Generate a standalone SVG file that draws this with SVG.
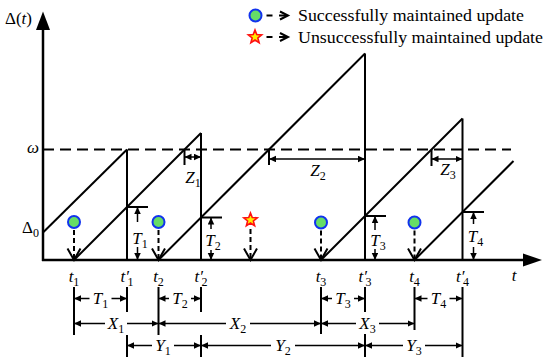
<svg xmlns="http://www.w3.org/2000/svg" width="550" height="362" viewBox="0 0 550 362">
<style>
  .ln{stroke:#000;stroke-width:2;fill:none}
  .ax{stroke:#000;stroke-width:2.5;fill:none}
  .dim{stroke:#000;stroke-width:1.5;fill:none;marker-end:url(#ah)}
  .dbl{stroke:#000;stroke-width:1.5;fill:none;marker-end:url(#ah);marker-start:url(#ah)}
  .tk{stroke:#000;stroke-width:2;fill:none}
  .dash{stroke:#000;stroke-width:2;fill:none;stroke-dasharray:11 6}
  .shaft{stroke:#000;stroke-width:2;fill:none;stroke-dasharray:5 3}
  .vh{stroke:#000;stroke-width:2;fill:none}
  .ok{fill:#66dd66;stroke:#1133ee;stroke-width:2}
  .bad{fill:#ffee00;stroke:#ff1010;stroke-width:1.6}
  text{font-family:"Times New Roman",Times,"Liberation Serif","DejaVu Serif",serif;font-size:17px;fill:#000}
  .it{font-style:italic}
  .c{text-anchor:middle}
  .sub{font-size:12px;font-style:normal}
  .leg{font-size:17px}
</style>
<defs>
  <marker id="ah" markerUnits="userSpaceOnUse" markerWidth="8" markerHeight="7" refX="7" refY="3.25" orient="auto-start-reverse">
    <path d="M0,0 L7,3.25 L0,6.5 z" fill="#000"/>
  </marker>
  <polygon id="star" points="0,-7 1.763,-2.427 6.657,-2.163 2.853,0.927 4.114,5.663 0,3 -4.114,5.663 -2.853,0.927 -6.657,-2.163 -1.763,-2.427"/>
</defs>

<g id="axes">
  <line class="ax" x1="43" y1="261" x2="43" y2="28"/>
  <polygon points="43,11.5 36,30 50,30" fill="#000"/>
  <line class="ax" x1="42" y1="260" x2="525" y2="260"/>
  <polygon points="542,260 523,253.5 523,266.5" fill="#000"/>
  <line class="dash" x1="43" y1="149.5" x2="511" y2="149.5"/>
  <text x="5" y="24">Δ(<tspan class="it">t</tspan>)</text>
  <text x="33" y="153" class="it c">ω</text>
  <text x="22" y="233">Δ<tspan class="sub" dy="4">0</tspan></text>
  <text x="514" y="281" class="it c">t</text>
</g>

<g id="sawtooth">
  <line class="ln" x1="43" y1="232.5" x2="127" y2="149.5"/>
  <line class="ln" x1="127" y1="149.5" x2="127" y2="260"/>
  <line class="ln" x1="74" y1="260" x2="201" y2="133"/>
  <line class="ln" x1="201" y1="133" x2="201" y2="260"/>
  <line class="ln" x1="158.5" y1="260" x2="365" y2="53.5"/>
  <line class="ln" x1="365" y1="53.5" x2="365" y2="260"/>
  <line class="ln" x1="321" y1="260" x2="462.5" y2="118.5"/>
  <line class="ln" x1="462.5" y1="118.5" x2="462.5" y2="260"/>
  <line class="ln" x1="414.5" y1="260" x2="513.5" y2="161"/>
</g>

<g id="service-times">
  <line class="tk" x1="127" y1="207" x2="148" y2="207"/>
  <line class="dim" x1="137.5" y1="222" x2="137.5" y2="207"/>
  <line class="dim" x1="137.5" y1="247" x2="137.5" y2="260"/>
  <text x="140" y="244" class="it c">T<tspan class="sub" dy="4">1</tspan></text>

  <line class="tk" x1="201" y1="217.5" x2="222" y2="217.5"/>
  <line class="dim" x1="211" y1="229" x2="211" y2="217.5"/>
  <line class="dim" x1="211" y1="250" x2="211" y2="260"/>
  <text x="213" y="246" class="it c">T<tspan class="sub" dy="4">2</tspan></text>

  <line class="tk" x1="365" y1="216" x2="386" y2="216"/>
  <line class="dim" x1="375" y1="230" x2="375" y2="216"/>
  <line class="dim" x1="375" y1="249" x2="375" y2="260"/>
  <text x="378" y="246" class="it c">T<tspan class="sub" dy="4">3</tspan></text>

  <line class="tk" x1="462.5" y1="212" x2="484" y2="212"/>
  <line class="dim" x1="473.5" y1="224" x2="473.5" y2="212"/>
  <line class="dim" x1="473.5" y1="247" x2="473.5" y2="260"/>
  <text x="475.5" y="242" class="it c">T<tspan class="sub" dy="4">4</tspan></text>
</g>

<g id="overshoot">
  <line class="tk" x1="184.5" y1="149.5" x2="184.5" y2="165"/>
  <line class="dbl" x1="184.5" y1="157" x2="201" y2="157"/>
  <text x="193" y="183" class="it c">Z<tspan class="sub" dy="4">1</tspan></text>

  <line class="tk" x1="269" y1="149.5" x2="269" y2="165"/>
  <line class="dbl" x1="269" y1="159" x2="365" y2="159"/>
  <text x="318" y="176" class="it c">Z<tspan class="sub" dy="4">2</tspan></text>

  <line class="tk" x1="431.5" y1="149.5" x2="431.5" y2="166"/>
  <line class="dbl" x1="431.5" y1="159" x2="462.5" y2="159"/>
  <text x="448" y="175" class="it c">Z<tspan class="sub" dy="4">3</tspan></text>
</g>

<g id="updates">
  <g id="update-t1">
    <line class="shaft" x1="74" y1="230" x2="74" y2="258"/>
    <polyline class="vh" points="67.5,248.5 74,260 80.5,248.5"/>
    <circle class="ok" cx="74" cy="222" r="6"/>
  </g>
  <g id="update-t2">
    <line class="shaft" x1="158.5" y1="230" x2="158.5" y2="258"/>
    <polyline class="vh" points="152,248.5 158.5,260 165,248.5"/>
    <circle class="ok" cx="158.5" cy="222" r="6"/>
  </g>
  <g id="update-fail">
    <line class="shaft" x1="250.5" y1="229" x2="250.5" y2="258"/>
    <polyline class="vh" points="244,248.5 250.5,260 257,248.5"/>
    <use href="#star" class="bad" transform="translate(250.5,220)"/>
  </g>
  <g id="update-t3">
    <line class="shaft" x1="321" y1="230.5" x2="321" y2="258"/>
    <polyline class="vh" points="314.5,248.5 321,260 327.5,248.5"/>
    <circle class="ok" cx="321" cy="222.5" r="6"/>
  </g>
  <g id="update-t4">
    <line class="shaft" x1="414.5" y1="230.5" x2="414.5" y2="258"/>
    <polyline class="vh" points="408,248.5 414.5,260 421,248.5"/>
    <circle class="ok" cx="414.5" cy="222.5" r="6"/>
  </g>
</g>

<g id="time-labels">
  <text x="74" y="282" class="it c">t<tspan class="sub" dy="4">1</tspan></text>
  <text x="127" y="282" class="it c">t′<tspan class="sub" dx="-1.5" dy="4">1</tspan></text>
  <text x="158.5" y="282" class="it c">t<tspan class="sub" dy="4">2</tspan></text>
  <text x="201" y="282" class="it c">t′<tspan class="sub" dx="-1.5" dy="4">2</tspan></text>
  <text x="321" y="282" class="it c">t<tspan class="sub" dy="4">3</tspan></text>
  <text x="365" y="282" class="it c">t′<tspan class="sub" dx="-1.5" dy="4">3</tspan></text>
  <text x="414.5" y="282" class="it c">t<tspan class="sub" dy="4">4</tspan></text>
  <text x="462.5" y="282" class="it c">t′<tspan class="sub" dx="-1.5" dy="4">4</tspan></text>
</g>

<g id="connectors">
  <line class="tk" x1="74" y1="287" x2="74" y2="335"/>
  <line class="tk" x1="127" y1="287" x2="127" y2="312"/>
  <line class="tk" x1="127" y1="335" x2="127" y2="357"/>
  <line class="tk" x1="158.5" y1="287" x2="158.5" y2="335"/>
  <line class="tk" x1="201" y1="287" x2="201" y2="312"/>
  <line class="tk" x1="201" y1="335" x2="201" y2="357"/>
  <line class="tk" x1="321" y1="287" x2="321" y2="334"/>
  <line class="tk" x1="365" y1="287" x2="365" y2="312"/>
  <line class="tk" x1="365" y1="334" x2="365" y2="357"/>
  <line class="tk" x1="414.5" y1="287" x2="414.5" y2="330"/>
  <line class="tk" x1="462.5" y1="287" x2="462.5" y2="357"/>

  <line class="dim" x1="89.5" y1="298.5" x2="74" y2="298.5"/>
  <line class="dim" x1="111.5" y1="298.5" x2="127" y2="298.5"/>
  <line class="dim" x1="169" y1="298.5" x2="158.5" y2="298.5"/>
  <line class="dim" x1="191" y1="298.5" x2="201" y2="298.5"/>
  <line class="dim" x1="332" y1="298.5" x2="321" y2="298.5"/>
  <line class="dim" x1="354" y1="298.5" x2="365" y2="298.5"/>
  <line class="dim" x1="427.5" y1="298.5" x2="414.5" y2="298.5"/>
  <line class="dim" x1="449.5" y1="298.5" x2="462.5" y2="298.5"/>

  <line class="dim" x1="105" y1="323.5" x2="74" y2="323.5"/>
  <line class="dim" x1="127" y1="323.5" x2="158.5" y2="323.5"/>
  <line class="dim" x1="226" y1="323.5" x2="158.5" y2="323.5"/>
  <line class="dim" x1="250" y1="323.5" x2="321" y2="323.5"/>
  <line class="dim" x1="356" y1="323.5" x2="321" y2="323.5"/>
  <line class="dim" x1="379" y1="323.5" x2="414.5" y2="323.5"/>

  <line class="dim" x1="152" y1="345.5" x2="127" y2="345.5"/>
  <line class="dim" x1="174" y1="345.5" x2="201" y2="345.5"/>
  <line class="dim" x1="271" y1="345.5" x2="201" y2="345.5"/>
  <line class="dim" x1="295" y1="345.5" x2="365" y2="345.5"/>
  <line class="dim" x1="403" y1="345.5" x2="365" y2="345.5"/>
  <line class="dim" x1="425" y1="345.5" x2="462.5" y2="345.5"/>
</g>

<g id="interval-labels">
  <text x="100.5" y="304" class="it c">T<tspan class="sub" dy="4">1</tspan></text>
  <text x="180" y="304" class="it c">T<tspan class="sub" dy="4">2</tspan></text>
  <text x="343" y="304" class="it c">T<tspan class="sub" dy="4">3</tspan></text>
  <text x="438.5" y="304" class="it c">T<tspan class="sub" dy="4">4</tspan></text>
  <text x="116" y="329" class="it c">X<tspan class="sub" dy="4">1</tspan></text>
  <text x="238" y="329" class="it c">X<tspan class="sub" dy="4">2</tspan></text>
  <text x="367.5" y="329" class="it c">X<tspan class="sub" dy="4">3</tspan></text>
  <text x="163" y="351" class="it c">Y<tspan class="sub" dy="4">1</tspan></text>
  <text x="283" y="351" class="it c">Y<tspan class="sub" dy="4">2</tspan></text>
  <text x="414" y="351" class="it c">Y<tspan class="sub" dy="4">3</tspan></text>
</g>

<g id="legend">
  <g id="legend-success">
    <circle class="ok" cx="255.5" cy="15.5" r="6"/>
    <line class="tk" x1="266.5" y1="15.5" x2="272.5" y2="15.5"/>
    <line class="tk" x1="279" y1="15.5" x2="287" y2="15.5"/>
    <polyline class="vh" points="280,11.5 288,15.5 280,19.5"/>
    <text x="298" y="21" class="leg" textLength="226" lengthAdjust="spacingAndGlyphs">Successfully maintained update</text>
  </g>
  <g id="legend-fail">
    <use href="#star" class="bad" transform="translate(255,37)"/>
    <line class="tk" x1="266.5" y1="37" x2="272.5" y2="37"/>
    <line class="tk" x1="279" y1="37" x2="287" y2="37"/>
    <polyline class="vh" points="280,33 288,37 280,41"/>
    <text x="298" y="43" class="leg" textLength="245" lengthAdjust="spacingAndGlyphs">Unsuccessfully maintained update</text>
  </g>
</g>
</svg>
